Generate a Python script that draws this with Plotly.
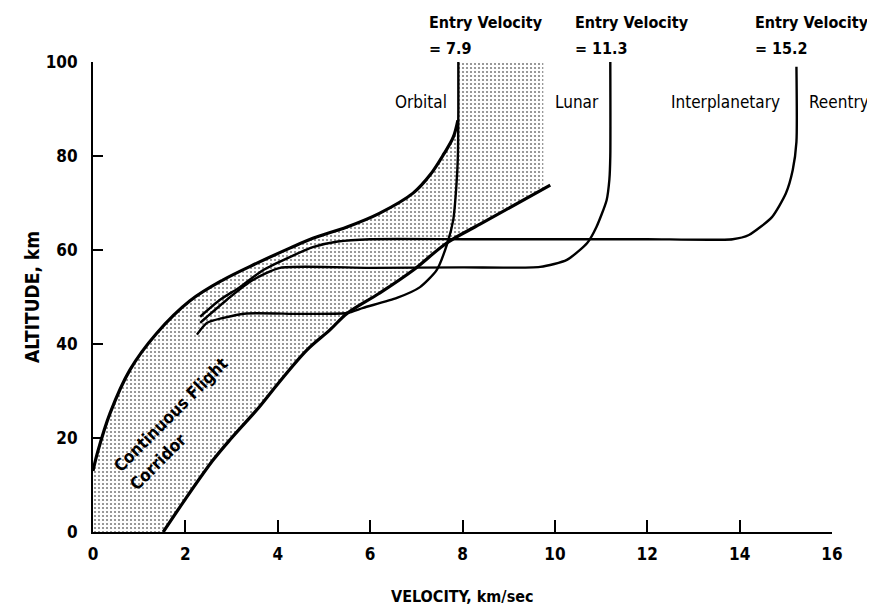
import plotly.graph_objects as go

# ---- data ----
upper_v = [0, 0.1, 0.37, 0.8, 1.38, 2.1, 2.81, 3.55, 4.26, 4.76, 5.5, 6.2, 6.93, 7.3, 7.6, 7.8, 7.9]
upper_alt = [13, 17, 25.3, 34.5, 42.3, 49.2, 53.6, 57.2, 60.4, 62.5, 64.9, 67.8, 72.1, 76, 80.5, 84, 87.6]

lower_v = [1.52, 2.0, 2.6, 3.0, 3.6, 4.0, 4.63, 5.13, 5.5, 6.2, 6.93, 7.66, 8.38, 9.9]
lower_alt = [0, 7, 15.3, 20, 26.6, 31.5, 38.7, 43, 46.5, 50.8, 55.7, 61.5, 65.5, 73.8]

shade_top_v = [7.9, 9.75]
shade_top_alt = [100, 100]

orbital_v = [7.91, 7.91, 7.9, 7.87, 7.8, 7.68, 7.44, 7.08, 6.58, 5.85, 5.5, 4.5, 3.33, 2.8, 2.47, 2.25]
orbital_alt = [100, 90, 80, 74, 66.4, 61.7, 55.7, 52.1, 49.8, 47.7, 46.6, 46.4, 46.5, 45.5, 44.5, 42]

lunar_v = [11.2, 11.2, 11.18, 11.12, 10.9, 10.7, 10.26, 9.68, 8.0, 6.0, 4.05, 3.46, 2.97, 2.47, 2.32]
lunar_alt = [100, 80, 75, 70.6, 64.9, 61.5, 57.9, 56.4, 56.3, 56.2, 56.2, 53.6, 50, 45.8, 44.5]

reentry_v = [15.23, 15.23, 15.15, 15.0, 14.7, 14.2, 13.85, 12, 10, 8, 6, 5.3, 4.76, 4.26, 3.68, 3.18, 2.75, 2.32]
reentry_alt = [99, 83, 77, 72, 67, 63.2, 62.3, 62.3, 62.3, 62.3, 62.3, 61.8, 60.6, 58.5, 55.7, 52.1, 49.4, 45.8]

x_ticks = [0, 2, 4, 6, 8, 10, 12, 14, 16]
y_ticks = [0, 20, 40, 60, 80, 100]

entry_title = "Entry Velocity"
entry_values = ["= 7.9", "= 11.3", "= 15.2"]
entry_label_v = [7.24, 10.4, 14.28]
mission_labels = ["Orbital", "Lunar", "Interplanetary", "Reentry"]
mission_label_v = [7.7, 9.97, 14.92, 15.45]
mission_label_anchor = ["right", "left", "right", "left"]

FONT = "DejaVu Sans Condensed, Liberation Sans Narrow, Arial Narrow, Liberation Sans, sans-serif"

# ---- shaded corridor polygon built from the boundary arrays ----
poly_v = [0] + upper_v + shade_top_v + [lower_v[-1] - 0.15] + lower_v[::-1] + [0]
poly_alt = [0] + upper_alt + shade_top_alt + [lower_alt[-1] - 0.3] + lower_alt[::-1] + [0]

fig = go.Figure()
fig.add_trace(go.Scatter(
    x=poly_v, y=poly_alt, mode="lines", line=dict(width=0),
    fill="toself", fillcolor="rgba(0,0,0,0)",
    fillpattern=dict(shape=".", size=4, solidity=0.22, fgcolor="black", bgcolor="white"),
    hoverinfo="skip", showlegend=False))

for xs, ys, w, sm in [(upper_v, upper_alt, 3.2, 1.0), (lower_v, lower_alt, 3.2, 1.0),
                      (orbital_v, orbital_alt, 2.4, 0.6), (lunar_v, lunar_alt, 2.4, 0.6),
                      (reentry_v, reentry_alt, 2.4, 0.6)]:
    fig.add_trace(go.Scatter(x=xs, y=ys, mode="lines",
                             line=dict(color="black", width=w, shape="spline", smoothing=sm),
                             hoverinfo="skip", showlegend=False))

annotations = []
for val, v in zip(entry_values, entry_label_v):
    annotations.append(dict(x=v, y=1.0, xref="x", yref="paper", yshift=40, text=entry_title,
                            showarrow=False, xanchor="left", yanchor="middle",
                            font=dict(family=FONT, size=16, color="black", weight="bold")))
    annotations.append(dict(x=v, y=1.0, xref="x", yref="paper", yshift=14, text=val,
                            showarrow=False, xanchor="left", yanchor="middle",
                            font=dict(family=FONT, size=16, color="black", weight="bold")))
for txt, v, anc in zip(mission_labels, mission_label_v, mission_label_anchor):
    annotations.append(dict(x=v, y=91.5, xref="x", yref="y", text=txt, showarrow=False,
                            xanchor=anc, yanchor="middle",
                            font=dict(family=FONT, size=17, color="black")))
annotations.append(dict(x=1.67, y=25.0, xref="x", yref="y", text="Continuous Flight",
                        showarrow=False, textangle=-45,
                        font=dict(family=FONT, size=17, color="black", weight="bold")))
annotations.append(dict(x=1.4, y=15.0, xref="x", yref="y", text="Corridor",
                        showarrow=False, textangle=-45,
                        font=dict(family=FONT, size=17, color="black", weight="bold")))
annotations.append(dict(x=0.5, y=0, xref="paper", yref="paper", yshift=-64,
                        text="VELOCITY, km/sec", showarrow=False, yanchor="middle",
                        font=dict(family=FONT, size=16, color="black", weight="bold")))
annotations.append(dict(x=0, y=0.5, xref="paper", yref="paper", xshift=-61,
                        text="ALTITUDE, km", showarrow=False, textangle=-90, xanchor="center",
                        font=dict(family=FONT, size=19, color="black", weight="bold")))

fig.update_layout(
    width=867, height=602,
    margin=dict(l=85, r=43, t=54, b=78),
    paper_bgcolor="white", plot_bgcolor="white",
    annotations=annotations,
    showlegend=False,
)
fig.update_xaxes(range=[0, 16], tickvals=x_ticks, ticks="inside", ticklen=12, tickwidth=2,
                 tickcolor="black", showline=True, linecolor="black", linewidth=2,
                 showgrid=False, zeroline=False, ticklabelstandoff=6,
                 tickfont=dict(family=FONT, size=17, color="black", weight="bold"))
fig.update_yaxes(range=[0, 100], tickvals=y_ticks, ticks="inside", ticklen=10, tickwidth=2,
                 tickcolor="black", showline=True, linecolor="black", linewidth=2,
                 showgrid=False, zeroline=False, ticklabelstandoff=10,
                 tickfont=dict(family=FONT, size=17, color="black", weight="bold"))

fig.write_html("out.html")
